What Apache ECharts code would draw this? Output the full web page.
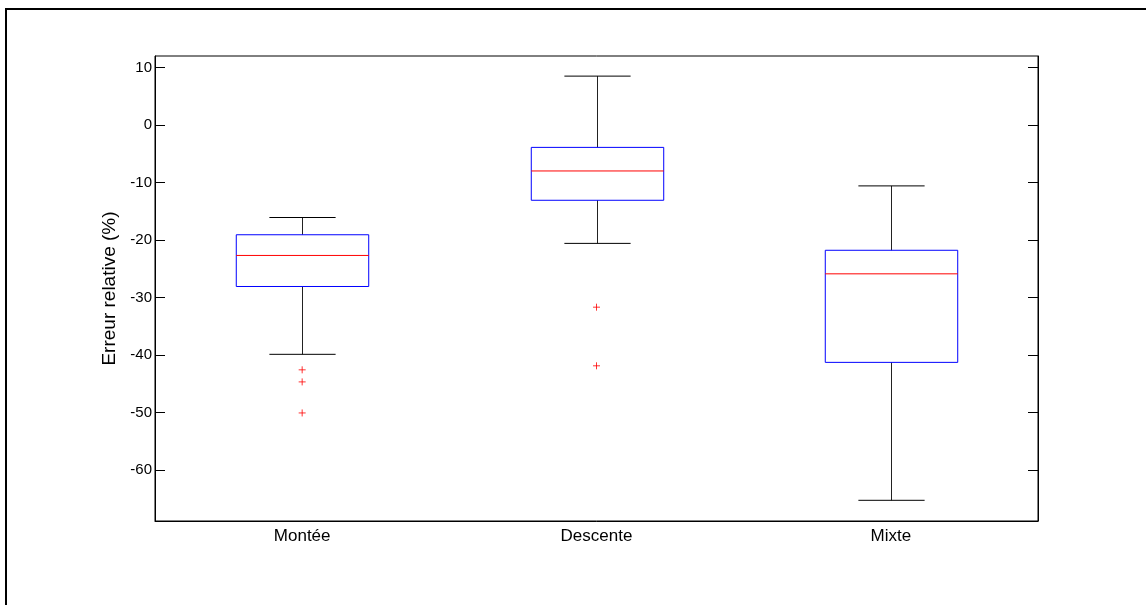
<!DOCTYPE html>
<html>
<head>
<meta charset="utf-8">
<script src="https://cdn.jsdelivr.net/npm/echarts@6/dist/echarts.min.js"></script>
<style>
  html, body { margin: 0; padding: 0; background: #fff; }
  #chart { width: 1146px; height: 605px; }
</style>
</head>
<body>
<div id="chart"></div>
<script>
// box stats
const categories = ["Montée", "Descente", "Mixte"];
const whiskerLow = [-39.9, -20.6, -65.3];
const q1 = [-28.1, -13.1, -41.3];
const median = [-22.7, -8.0, -25.9];
const q3 = [-19.1, -3.9, -21.8];
const whiskerHigh = [-16.1, 8.5, -10.6];
const outlierCat = [0, 0, 0, 1, 1];
const outlierVal = [-42.6, -44.7, -50.1, -31.7, -41.9];
const yTicks = [10, 0, -10, -20, -30, -40, -50, -60];

const boxData = categories.map((c, i) => [i, whiskerLow[i], q1[i], median[i], q3[i], whiskerHigh[i]]);
const outlierData = outlierCat.map((c, i) => [c, outlierVal[i]]);

const chart = echarts.init(document.getElementById("chart"));

const renderBox = (params, api) => {
  const idx = api.value(0);
  const band = api.size([1, 0])[0];
  const boxHalf = band * 0.225;
  const capHalf = band * 0.1125;
  const pLow = api.coord([idx, api.value(1)]);
  const pQ1 = api.coord([idx, api.value(2)]);
  const pMed = api.coord([idx, api.value(3)]);
  const pQ3 = api.coord([idx, api.value(4)]);
  const pHigh = api.coord([idx, api.value(5)]);
  const x = Math.round(pMed[0]) + 0.5;
  const line = (x1, y1, x2, y2, color) => ({
    type: "line",
    shape: { x1, y1, x2, y2 },
    style: { stroke: color, lineWidth: 1 },
  });
  return {
    type: "group",
    children: [
      line(x, pHigh[1], x, pQ3[1], "#222"),
      line(x, pQ1[1], x, pLow[1], "#222"),
      line(x - capHalf, pHigh[1], x + capHalf, pHigh[1], "#000"),
      line(x - capHalf, pLow[1], x + capHalf, pLow[1], "#000"),
      {
        type: "rect",
        shape: { x: x - boxHalf, y: pQ3[1], width: boxHalf * 2, height: pQ1[1] - pQ3[1] },
        style: { fill: null, stroke: "#0000ff", lineWidth: 1 },
      },
      line(x - boxHalf, pMed[1], x + boxHalf, pMed[1], "#ff0000"),
    ],
  };
};

const yMin = -68.9;
const yMax = 12;

chart.setOption({
  animation: false,
  textStyle: { fontFamily: "Liberation Sans, Arial, sans-serif" },
  graphic: [
    {
      type: "rect",
      shape: { x: 6, y: 9, width: 1160, height: 620 },
      style: { fill: null, stroke: "#000", lineWidth: 2 },
      silent: true,
    },
  ],
  grid: {
    left: 155, right: 108, top: 56, bottom: 84,
    show: true, borderColor: "#000", borderWidth: 1, backgroundColor: "#fff",
  },
  xAxis: {
    type: "category",
    data: categories,
    boundaryGap: true,
    axisLine: { onZero: false, lineStyle: { color: "#000", width: 1 } },
    axisTick: { show: false },
    axisLabel: { color: "#000", fontSize: 17, margin: 7 },
    splitLine: { show: false },
  },
  yAxis: [
    {
      type: "value",
      min: yMin,
      max: yMax,
      name: "Erreur relative (%)",
      nameLocation: "middle",
      nameGap: 20,
      nameTextStyle: { color: "#000", fontSize: 19 },
      axisLine: { show: true, onZero: false, lineStyle: { color: "#000", width: 1 } },
      axisTick: {
        show: true, inside: true, length: 10,
        customValues: yTicks,
        lineStyle: { color: "#000" },
      },
      axisLabel: {
        color: "#000", fontSize: 15, margin: 3,
        customValues: yTicks,
        showMinLabel: true, showMaxLabel: true,
      },
      splitLine: { show: false },
    },
    {
      type: "value",
      position: "right",
      min: yMin,
      max: yMax,
      axisLine: { show: true, onZero: false, lineStyle: { color: "#000", width: 1 } },
      axisTick: {
        show: true, inside: true, length: 10,
        customValues: yTicks,
        lineStyle: { color: "#000" },
      },
      axisLabel: { show: false },
      splitLine: { show: false },
    },
  ],
  series: [
    {
      type: "custom",
      renderItem: renderBox,
      encode: { x: 0, y: [1, 2, 3, 4, 5] },
      data: boxData,
      silent: true,
    },
    {
      type: "scatter",
      data: outlierData,
      symbol: "path://M0,4L8,4M4,0L4,8",
      symbolSize: 7,
      itemStyle: { color: "none", borderColor: "#ff0000", borderWidth: 1 },
      silent: true,
      z: 5,
    },
  ],
});
</script>
</body>
</html>
